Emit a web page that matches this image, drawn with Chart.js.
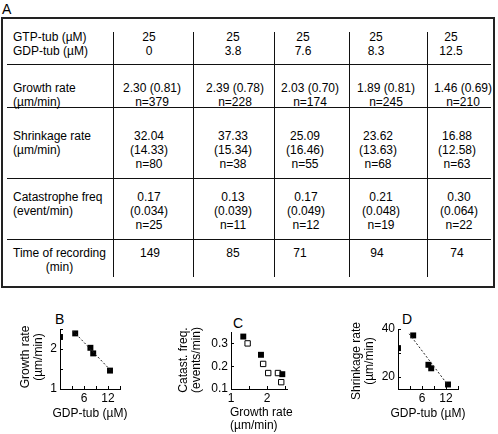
<!DOCTYPE html>
<html><head><meta charset="utf-8">
<script src="https://cdn.jsdelivr.net/npm/chart.js@4.4.1/dist/chart.umd.min.js"></script>
<style>
html,body{margin:0;padding:0;background:#fff;}
body{width:498px;height:434px;position:relative;overflow:hidden;font-family:"Liberation Sans",Arial,sans-serif;color:#000;}
.t{position:absolute;font-size:12px;line-height:14px;white-space:nowrap;}
.c{text-align:center;width:90px;}
.hl{position:absolute;height:1px;background:#111;}
.vl{position:absolute;width:1px;background:#111;}
.lt{position:absolute;font-size:14px;line-height:14px;}
.at{position:absolute;font-size:12px;line-height:13px;white-space:nowrap;text-align:center;}
.rot{transform:translate(-50%,-50%) rotate(-90deg);}
.hc{transform:translate(-50%,-50%);}
canvas{position:absolute;}
</style></head><body>
<div class="lt" style="left:2px;top:2px">A</div>
<div style="position:absolute;left:1px;top:17px;width:490px;height:267px;border:2px solid #222;"></div>
<div id="table"></div>
<div class="lt" style="left:55px;top:312px">B</div>
<div class="lt" style="left:233px;top:316px">C</div>
<div class="lt" style="left:402px;top:312px">D</div>
<canvas id="cb" width="135" height="134" style="left:0px;top:300px"></canvas>
<canvas id="cc" width="140" height="134" style="left:170px;top:300px"></canvas>
<canvas id="cd" width="158" height="134" style="left:340px;top:300px"></canvas>
<div id="titles"></div>
<script>
// ---------- data ----------
const rowLabels = [
  ["GTP-tub (\u00b5M)", "GDP-tub (\u00b5M)"],
  ["Growth rate", "(\u00b5m/min)"],
  ["Shrinkage rate", "(\u00b5m/min)"],
  ["Catastrophe freq", "(event/min)"],
  ["Time of recording", "(min)"]
];
const gtpTub = [25, 25, 25, 25, 25];
const gdpTub = [0, 3.8, 7.6, 8.3, 12.5];
const growthRate = [2.30, 2.39, 2.03, 1.89, 1.46];
const growthSd = [0.81, 0.78, 0.70, 0.81, 0.69];
const growthN = [379, 228, 174, 245, 210];
const shrinkRate = [32.04, 37.33, 25.09, 23.62, 16.88];
const shrinkSd = [14.33, 15.34, 16.46, 13.63, 12.58];
const shrinkN = [80, 38, 55, 68, 63];
const catFreq = [0.17, 0.13, 0.17, 0.21, 0.30];
const catSd = [0.034, 0.039, 0.049, 0.048, 0.064];
const catN = [25, 11, 12, 19, 22];
const recTime = [149, 85, 71, 94, 74];
// panel C filled squares (second data set)
const catFilledGrowth = [1.34, 1.83, 2.42];
const catFilledFreq = [0.33, 0.25, 0.165];
// dashed fit lines
const fitBx = [3.3, 13.0], fitBy = [2.45, 1.43];
const fitDx = [2.8, 12.5], fitDy = [38.0, 16.6];
// axis ticks / labels
const bXTicks = [0, 3, 6, 9, 12, 15], bXLabels = [6, 12];
const bYTicks = [1, 1.5, 2, 2.5], bYLabels = [1, 2];
const cXTicks = [1, 1.5, 2, 2.5], cXLabels = [1, 2];
const cYTicks = [0.1, 0.2, 0.3], cYLabels = [0.1, 0.2, 0.3];
const dXTicks = [0, 3, 6, 9, 12, 15], dXLabels = [6, 12];
const dYTicks = [20, 30, 40], dYLabels = [20, 40];
// axis titles
const bXTitle = ["GDP-tub (\u00b5M)"], bYTitle = ["Growth rate", "(\u00b5m/min)"];
const cXTitle = ["Growth rate", "(\u00b5m/min)"], cYTitle = ["Catast. freq.", "(events/min)"];
const dXTitle = ["GDP-tub (\u00b5M)"], dYTitle = ["Shrinkage rate", "(\u00b5m/min)"];

// ---------- table layout ----------
const rowTops = [30, 81, 129, 190, 246];
const colCenters = [
  [149, 233, 303, 376, 451],
  [152, 235, 310, 386, 463],
  [149, 233, 305, 378, 457],
  [149, 233, 306, 381, 459],
  [150, 233, 300, 377, 457]
];
const hLines = [64, 107, 178, 239];
const vLines = [113, 193, 274, 349, 427];

const cells = [
  gtpTub.map((v, i) => [String(v), String(gdpTub[i])]),
  growthRate.map((v, i) => [v.toFixed(2) + " (" + growthSd[i].toFixed(2) + ")", "n=" + growthN[i]]),
  shrinkRate.map((v, i) => [v.toFixed(2), "(" + shrinkSd[i].toFixed(2) + ")", "n=" + shrinkN[i]]),
  catFreq.map((v, i) => [v.toFixed(2), "(" + catSd[i].toFixed(3) + ")", "n=" + catN[i]]),
  recTime.map(v => [String(v)])
];

function add(parent, html, cls, style) {
  const d = document.createElement('div');
  d.className = cls; d.setAttribute('style', style); d.innerHTML = html; parent.appendChild(d);
}
const tbl = document.getElementById('table');
hLines.forEach(y => add(tbl, '', 'hl', `left:7px;top:${y}px;width:484px`));
vLines.forEach(x => add(tbl, '', 'vl', `left:${x}px;top:32px;height:245px`));
rowLabels.forEach((lines, r) => {
  const extra = r === 4 ? 'text-align:center;' : '';
  add(tbl, lines.join('<br>'), 't', `left:13px;top:${rowTops[r]}px;${extra}`);
});
cells.forEach((row, r) => {
  row.forEach((lines, c) => {
    add(tbl, lines.join('<br>'), 't c', `left:${colCenters[r][c] - 45}px;top:${rowTops[r]}px`);
  });
});

// axis titles as HTML text
const tt = document.getElementById('titles');
add(tt, bYTitle.join('<br>'), 'at rot', 'left:31.5px;top:357px');
add(tt, bXTitle.join('<br>'), 'at hc', 'left:90px;top:412.5px');
add(tt, cYTitle.join('<br>'), 'at rot', 'left:190px;top:360px');
add(tt, cXTitle.join('<br>'), 'at', 'left:230px;top:405.5px;text-align:left');
add(tt, dYTitle.join('<br>'), 'at rot', 'left:363px;top:361px');
add(tt, dXTitle.join('<br>'), 'at hc', 'left:428px;top:412.5px');

// ---------- charts ----------
const FONT = '"Liberation Sans", Arial, sans-serif';
Chart.defaults.font.family = FONT;
Chart.defaults.color = '#000';

function axis(o) {
  return {
    type: 'linear', position: o.pos, min: o.min, max: o.max,
    border: {display: true, color: '#000', width: 1},
    grid: {display: true, drawOnChartArea: false, drawTicks: true, tickLength: -3, color: '#000', lineWidth: 1},
    ticks: {autoSkip: false, maxRotation: 0, minRotation: 0, padding: o.pad, color: '#000',
      font: {family: FONT, size: 12},
      callback: (v) => o.labels.includes(v) ? String(v) : ''},
    afterBuildTicks: (s) => { s.ticks = o.ticks.map(v => ({value: v})); },
    afterFit: (s) => { if (o.pos === 'left') s.width = o.size; else s.height = o.size; },
    title: {display: false}
  };
}
function pts(xs, ys) { return xs.map((x, i) => ({x: x, y: ys[i]})); }

function makeChart(id, area, xo, yo, datasets) {
  const cv = document.getElementById(id);
  return new Chart(cv, {
    type: 'scatter',
    data: {datasets: datasets},
    options: {
      responsive: false, animation: false, devicePixelRatio: 1,
      layout: {padding: {left: 0, top: area.top, right: cv.width - area.right, bottom: 0}},
      plugins: {legend: {display: false}, tooltip: {enabled: false}},
      scales: {
        x: axis(Object.assign({pos: 'bottom', size: cv.height - area.bottom}, xo)),
        y: axis(Object.assign({pos: 'left', size: area.left}, yo))
      }
    }
  });
}
const sq = {pointStyle: 'rect', pointRadius: 4.2, pointBackgroundColor: '#000', pointBorderColor: '#000', pointBorderWidth: 0, showLine: false};
const dash = {showLine: true, borderDash: [2, 2], borderWidth: 1, borderColor: '#222', pointRadius: 0};

makeChart('cb', {left: 60, top: 29, right: 120, bottom: 89},
  {min: 0, max: 15, ticks: bXTicks, labels: bXLabels, pad: 5},
  {min: 1, max: 2.5, ticks: bYTicks, labels: bYLabels, pad: 6},
  [Object.assign({data: pts(fitBx, fitBy)}, dash), Object.assign({data: pts(gdpTub, growthRate)}, sq)]);

makeChart('cc', {left: 61, top: 32, right: 117, bottom: 89},
  {min: 1, max: 2.55, ticks: cXTicks, labels: cXLabels, pad: 5},
  {min: 0.1, max: 0.35, ticks: cYTicks, labels: cYLabels, pad: 6},
  [Object.assign({data: pts(catFilledGrowth, catFilledFreq)}, sq),
   Object.assign({data: pts(growthRate, catFreq)}, sq, {pointBackgroundColor: '#fff', pointBorderWidth: 1, pointRadius: 3.8})]);

makeChart('cd', {left: 58, top: 29, right: 118, bottom: 89},
  {min: 0, max: 15, ticks: dXTicks, labels: dXLabels, pad: 5},
  {min: 15, max: 40, ticks: dYTicks, labels: dYLabels, pad: 6},
  [Object.assign({data: pts(fitDx, fitDy)}, dash), Object.assign({data: pts(gdpTub, shrinkRate)}, sq)]);
</script>
</body></html>
